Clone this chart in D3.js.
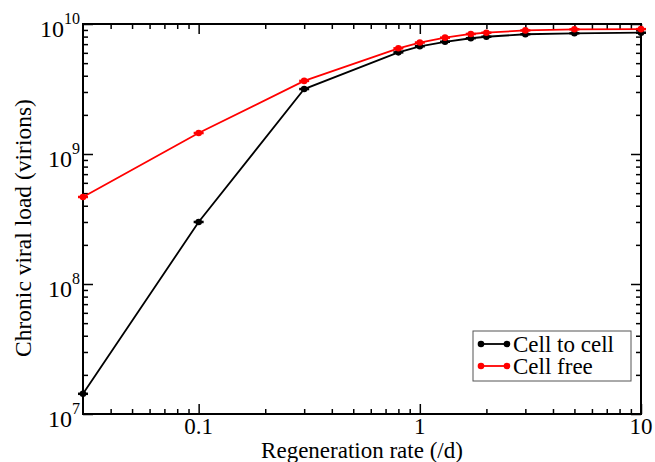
<!DOCTYPE html>
<html>
<head>
<meta charset="utf-8">
<script src="https://cdn.jsdelivr.net/npm/d3@7"></script>
<style>
  body { margin: 0; background: #fff; }
  svg { display: block; font-family: "Liberation Serif", "Times New Roman", serif; }
</style>
</head>
<body>
<div class="chart"></div>
<script>
// regeneration rate (/d)
const rates = [0.03, 0.1, 0.3, 0.8, 1, 1.3, 1.7, 2, 3, 5, 10];
// chronic viral load (virions)
const cellToCell = [1.43e7, 3.0e8, 3.16e9, 6.05e9, 6.74e9, 7.3e9, 7.77e9, 7.98e9, 8.34e9, 8.48e9, 8.57e9];
const cellFree = [4.67e8, 1.45e9, 3.65e9, 6.5e9, 7.2e9, 7.85e9, 8.38e9, 8.57e9, 8.93e9, 9.1e9, 9.13e9];

const xMajor = [0.1, 1, 10];
const xMajorLabels = ['0.1', '1', '10'];
const yMajor = [1e7, 1e8, 1e9, 1e10];
const yExponents = ['7', '8', '9', '10'];

const seriesNames = ['Cell to cell', 'Cell free'];
const seriesColors = ['#000000', '#ff0000'];

const W = 655, H = 462;
const margin = {top: 24, right: 14, bottom: 48, left: 83};
const width = W - margin.left - margin.right;
const height = H - margin.top - margin.bottom;

const x = d3.scaleLog().domain([0.03, 10]).range([0, width]);
const y = d3.scaleLog().domain([1e7, 1e10]).range([height, 0]);

// minor ticks: 2..9 times each decade
const xMinor = [];
[0.01, 0.1, 1].forEach(d => d3.range(2, 10).forEach(k => {
  const v = +(d * k).toPrecision(3);
  if (v > 0.03 && v < 10) xMinor.push(v);
}));
const yMinor = [];
[1e7, 1e8, 1e9].forEach(d => d3.range(2, 10).forEach(k => yMinor.push(d * k)));

const svg = d3.select('.chart').append('svg')
    .attr('width', W)
    .attr('height', H);

const g = svg.append('g')
    .attr('transform', `translate(${margin.left}, ${margin.top})`);

function tickAxis(axisFn, scale, values, size, tx, ty) {
  const a = g.append('g')
      .attr('transform', `translate(${tx}, ${ty})`)
      .call(axisFn(scale).tickValues(values).tickSize(size).tickFormat(''));
  a.select('.domain').remove();
  a.selectAll('line').attr('stroke', '#000').attr('stroke-width', 1.5);
  return a;
}

// ticks pointing inward, mirrored on all four sides
tickAxis(d3.axisBottom, x, xMajor, -10, 0, height);
tickAxis(d3.axisBottom, x, xMinor, -5, 0, height);
tickAxis(d3.axisTop, x, xMajor, -10, 0, 0);
tickAxis(d3.axisTop, x, xMinor, -5, 0, 0);
tickAxis(d3.axisLeft, y, yMajor, -10, 0, 0);
tickAxis(d3.axisLeft, y, yMinor, -5, 0, 0);
tickAxis(d3.axisRight, y, yMajor, -10, width, 0);
tickAxis(d3.axisRight, y, yMinor, -5, width, 0);

g.append('rect')
    .attr('width', width)
    .attr('height', height)
    .attr('fill', 'none')
    .attr('stroke', '#000')
    .attr('stroke-width', 2);

// x tick labels
g.selectAll('.xlabel')
  .data(xMajor)
  .enter().append('text')
    .attr('class', 'xlabel')
    .attr('x', d => x(d))
    .attr('y', height + 20)
    .attr('text-anchor', 'middle')
    .attr('font-size', 23)
    .text((d, i) => xMajorLabels[i]);

// y tick labels with superscript exponent
const yl = g.selectAll('.ylabel')
  .data(yMajor)
  .enter().append('text')
    .attr('class', 'ylabel')
    .attr('x', -3)
    .attr('y', d => y(d) + 13)
    .attr('text-anchor', 'end')
    .attr('font-size', 24)
    .text('10');
yl.append('tspan')
    .attr('dy', -13)
    .attr('font-size', 16)
    .text((d, i) => yExponents[i]);

// axis titles
svg.append('text')
    .attr('x', margin.left + width / 2)
    .attr('y', 458)
    .attr('text-anchor', 'middle')
    .attr('font-size', 23)
    .text('Regeneration rate (/d)');

svg.append('text')
    .attr('transform', `translate(31, 228) rotate(-90)`)
    .attr('text-anchor', 'middle')
    .attr('font-size', 23.5)
    .text('Chronic viral load (virions)');

// series
const series = [cellToCell, cellFree];
const line = d3.line()
  .x(d => x(d[0]))
  .y(d => y(d[1]));

series.forEach((vals, si) => {
  const pts = rates.map((r, i) => [r, vals[i]]);
  const sg = g.append('g').attr('class', 'series');
  sg.append('path')
      .attr('d', line(pts))
      .attr('fill', 'none')
      .attr('stroke', seriesColors[si])
      .attr('stroke-width', 1.8);
  sg.selectAll('line.err')
    .data(pts)
    .enter().append('line')
      .attr('class', 'err')
      .attr('x1', d => x(d[0]) - 5)
      .attr('x2', d => x(d[0]) + 5)
      .attr('y1', d => y(d[1]))
      .attr('y2', d => y(d[1]))
      .attr('stroke', seriesColors[si])
      .attr('stroke-width', 2.5);
  sg.selectAll('circle')
    .data(pts)
    .enter().append('circle')
      .attr('cx', d => x(d[0]))
      .attr('cy', d => y(d[1]))
      .attr('r', 3.3)
      .attr('fill', seriesColors[si]);
});

// legend
const legend = svg.append('g')
    .attr('transform', 'translate(473, 331)');
legend.append('rect')
    .attr('width', 158)
    .attr('height', 50)
    .attr('fill', '#fff')
    .attr('stroke', '#555')
    .attr('stroke-width', 1);
seriesNames.forEach((name, i) => {
  const row = legend.append('g')
      .attr('transform', `translate(0, ${13 + i * 22})`);
  row.append('line')
      .attr('x1', 8).attr('x2', 34)
      .attr('stroke', seriesColors[i])
      .attr('stroke-width', 1.8);
  row.selectAll('circle')
    .data([8, 34])
    .enter().append('circle')
      .attr('cx', d => d)
      .attr('r', 3.3)
      .attr('fill', seriesColors[i]);
  row.append('text')
      .attr('x', 40)
      .attr('y', 8)
      .attr('font-size', 23)
      .text(name);
});
</script>
</body>
</html>
